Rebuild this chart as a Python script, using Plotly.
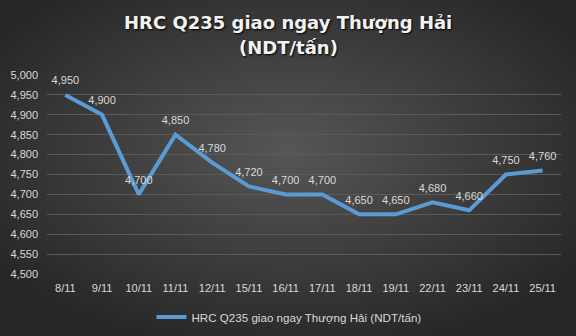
import base64
import plotly.graph_objects as go

categories = ["8/11", "9/11", "10/11", "11/11", "12/11", "15/11", "16/11",
              "17/11", "18/11", "19/11", "22/11", "23/11", "24/11", "25/11"]
values = [4950, 4900, 4700, 4850, 4780, 4720, 4700, 4700, 4650, 4650,
          4680, 4660, 4750, 4760]
series_name = "HRC Q235 giao ngay Thượng Hải (NDT/tấn)"
title_line1 = "HRC Q235 giao ngay Thượng Hải"
title_line2 = "(NDT/tấn)"

svg = ('<svg xmlns="http://www.w3.org/2000/svg" width="576" height="336">'
       '<defs><radialGradient id="g" cx="50%" cy="45%" r="62%">'
       '<stop offset="0%" stop-color="#565656"/>'
       '<stop offset="100%" stop-color="#262626"/>'
       '</radialGradient></defs>'
       '<rect width="576" height="336" fill="url(#g)"/></svg>')
bg_uri = "data:image/svg+xml;base64," + base64.b64encode(svg.encode()).decode()

L, R, T, B = 47, 15, 75, 62
PW, PH = 576 - L - R, 336 - T - B
FONT = "Liberation Sans, Arial"

fig = go.Figure()
fig.add_trace(go.Scatter(
    x=categories, y=values, mode="lines+markers+text", name=series_name,
    line=dict(color="#5b9bd5", width=4),
    marker=dict(size=11, color="rgba(0,0,0,0)", line=dict(width=0)),
    text=[f"{v:,}" for v in values], textposition="top center",
    textfont=dict(family=FONT, size=11, color="#d9d9d9"),
    cliponaxis=False,
))

title_font = dict(family="DejaVu Sans, Liberation Sans", size=18, color="#f2f2f2",
                  weight="bold", shadow="1px 1px 2px #000000")
fig.update_layout(
    width=576, height=336,
    margin=dict(l=L, r=R, t=T, b=B, autoexpand=False),
    paper_bgcolor="#333333", plot_bgcolor="rgba(0,0,0,0)",
    images=[dict(source=bg_uri, xref="paper", yref="paper", x=-L / PW, y=1 + T / PH,
                 sizex=576 / PW, sizey=336 / PH, xanchor="left", yanchor="top",
                 sizing="stretch", layer="below")],
    annotations=[
        dict(text=title_line1, xref="paper", yref="paper", x=(288 - L) / PW,
             y=1 + (T - 23) / PH, xanchor="center", yanchor="middle",
             showarrow=False, font=title_font),
        dict(text=title_line2, xref="paper", yref="paper", x=(288 - L) / PW,
             y=1 + (T - 47) / PH, xanchor="center", yanchor="middle",
             showarrow=False, font=title_font),
    ],
    showlegend=True,
    legend=dict(orientation="h", x=(289 - L) / PW, xanchor="center",
                y=-(317 - 336 + B) / PH, yanchor="middle",
                font=dict(family=FONT, size=11.6, color="#d9d9d9"),
                bgcolor="rgba(0,0,0,0)", itemwidth=30),
    xaxis=dict(type="category", range=[-0.5, len(categories) - 0.5],
               showgrid=False, showline=False, zeroline=False,
               ticks="", ticklabelstandoff=6,
               tickfont=dict(family=FONT, size=11, color="#d9d9d9")),
    yaxis=dict(range=[4500, 5000], dtick=50, tickformat=",", showgrid=True,
               gridcolor="#5a5a5a", gridwidth=1, zeroline=False, showline=False,
               ticks="", ticklabelstandoff=8,
               tickfont=dict(family=FONT, size=11, color="#d9d9d9")),
)

fig.write_html("out.html")
